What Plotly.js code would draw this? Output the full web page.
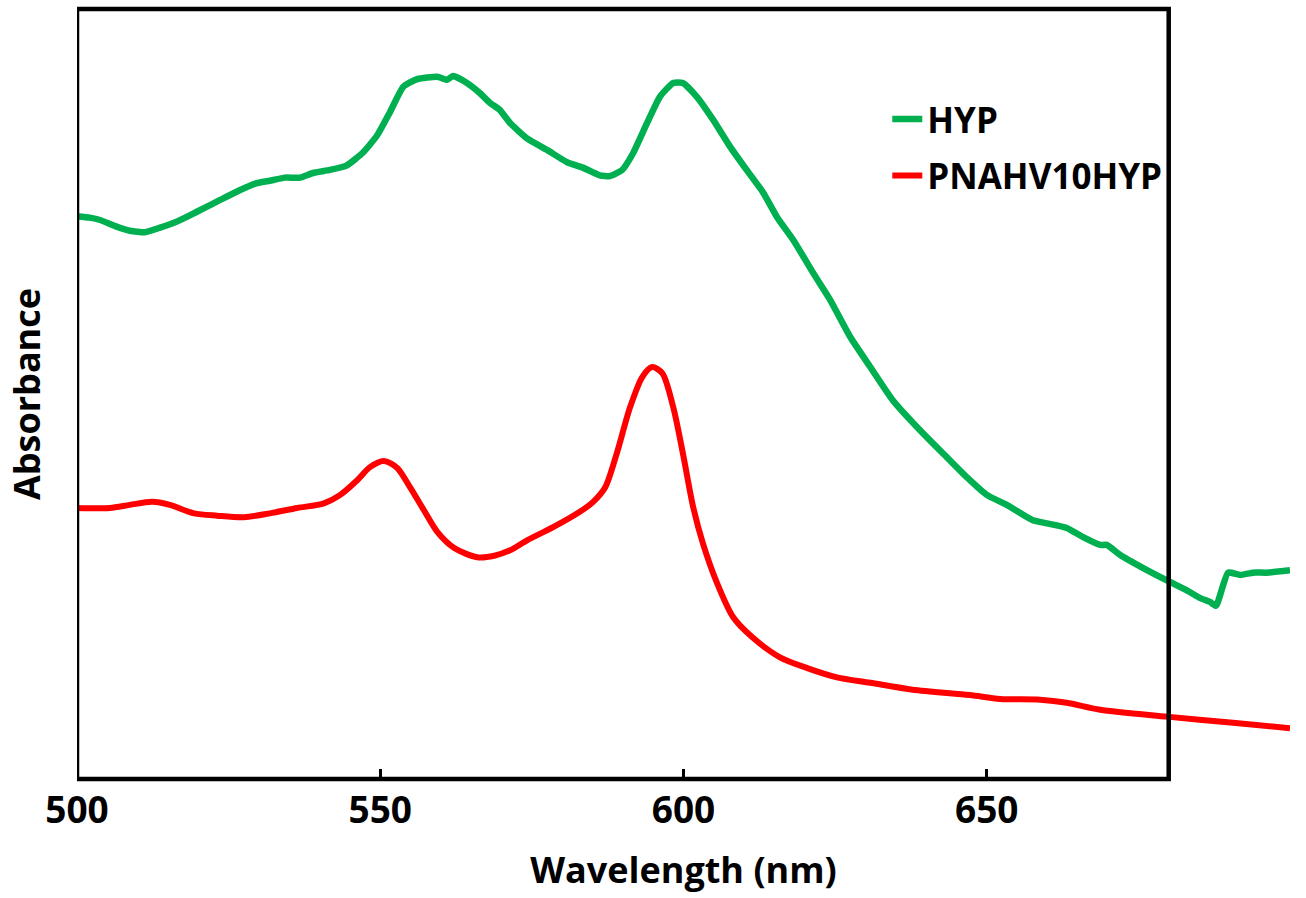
<!DOCTYPE html>
<html>
<head>
<meta charset="utf-8">
<script src="https://cdn.plot.ly/plotly-3.0.1.min.js"></script>
<style>html,body{margin:0;padding:0;background:#fff;}#chart{width:1306px;height:898px;}</style>
</head>
<body>
<div id="chart"></div>
<script>
// HYP (green) spectrum
const hypWavelength = [500.0,502.1,503.8,506.3,508.7,511.2,513.7,516.2,518.6,521.1,523.6,526.9,529.3,531.8,534.3,536.8,538.9,541.7,544.5,547.2,549.5,551.6,553.8,556.1,559.4,561.0,562.0,564.3,566.4,568.1,569.7,571.4,574.2,577.5,580.8,583.4,586.2,587.9,589.9,591.7,594.0,596.1,598.3,599.9,602.2,604.9,607.7,610.5,613.1,615.4,618.1,621.4,624.2,627.5,630.8,634.5,639.0,643.4,646.7,650.0,653.3,657.6,659.9,663.2,665.9,668.7,669.8,672.0,675.8,679.7,683.0,685.2,686.8,687.8,689.8,691.8,693.9,696.2,700.0];
const hypAbsorbance = [0.731,0.729,0.726,0.718,0.712,0.710,0.716,0.723,0.732,0.742,0.752,0.765,0.773,0.777,0.781,0.781,0.787,0.791,0.797,0.814,0.836,0.866,0.899,0.909,0.912,0.908,0.913,0.904,0.891,0.878,0.869,0.852,0.832,0.817,0.801,0.794,0.784,0.783,0.791,0.813,0.852,0.886,0.904,0.904,0.886,0.856,0.821,0.790,0.762,0.730,0.700,0.657,0.622,0.574,0.535,0.492,0.453,0.418,0.392,0.369,0.356,0.336,0.332,0.326,0.314,0.304,0.304,0.291,0.274,0.258,0.245,0.235,0.230,0.225,0.268,0.265,0.268,0.268,0.271];

// PNAHV10HYP (red) spectrum
const pnaWavelength = [500.0,505.4,508.7,512.4,515.3,519.3,523.1,527.5,531.8,536.3,540.7,543.4,546.2,548.3,550.6,552.8,554.9,557.2,559.4,562.2,566.0,568.8,571.4,574.2,578.5,582.9,585.1,587.1,589.0,591.2,593.2,594.8,596.5,598.3,599.9,601.6,603.2,605.5,608.2,611.5,615.9,620.4,625.3,630.8,637.8,647.2,652.2,658.8,663.2,668.7,679.7,690.6,700.0];
const pnaAbsorbance = [0.352,0.352,0.356,0.360,0.356,0.345,0.342,0.340,0.345,0.352,0.358,0.369,0.388,0.405,0.413,0.404,0.379,0.349,0.321,0.300,0.288,0.290,0.297,0.310,0.327,0.347,0.360,0.379,0.423,0.483,0.522,0.535,0.527,0.483,0.423,0.353,0.306,0.255,0.210,0.183,0.158,0.144,0.132,0.125,0.116,0.109,0.104,0.103,0.099,0.090,0.081,0.073,0.066];

const xTickVals = [500, 550, 600, 650];
const xTickText = ['500', '550', '600', '650'];
const frameEnd = 680;

const FONT = 'Open Sans, Noto Sans, sans-serif';

const traces = [
  {x: hypWavelength, y: hypAbsorbance, name: 'HYP', mode: 'lines', legendgroup: 'a',
   line: {color: '#00B050', width: 6.5, shape: 'spline', smoothing: 0.5}},
  {x: pnaWavelength, y: pnaAbsorbance, name: 'PNAHV10HYP', mode: 'lines', legendgroup: 'b',
   line: {color: '#FF0000', width: 6, shape: 'spline', smoothing: 0.8}}
];

const layout = {
  width: 1306, height: 898,
  margin: {l: 77, r: 16, t: 9, b: 119},
  paper_bgcolor: '#fff', plot_bgcolor: '#fff',
  showlegend: true,
  legend: {x: 0.668, y: 0.895, xanchor: 'left', yanchor: 'top',
           font: {family: FONT, size: 35, color: '#000', weight: 'bold'},
           bgcolor: 'rgba(0,0,0,0)', traceorder: 'grouped', tracegroupgap: 8},
  xaxis: {range: [500, 700], showgrid: false, zeroline: false, showline: false,
          tickmode: 'array', tickvals: xTickVals, ticktext: xTickText,
          ticks: 'inside', ticklen: 10, tickwidth: 3, tickcolor: '#000',
          ticklabelstandoff: 6,
          tickfont: {family: FONT, size: 37, color: '#000', weight: 'bold'},
          title: {text: 'Wavelength (nm)', standoff: 24,
                  font: {family: FONT, size: 36, color: '#000', weight: 'bold'}}},
  yaxis: {range: [0, 1], showgrid: false, zeroline: false, showline: false,
          showticklabels: false, ticks: '',
          title: {text: 'Absorbance', standoff: 24,
                  font: {family: FONT, size: 36, color: '#000', weight: 'bold'}}},
  shapes: [
    {type: 'rect', xref: 'x', yref: 'paper', x0: 500, x1: frameEnd, y0: 0, y1: 1,
     line: {color: '#000', width: 4.5}, layer: 'above'}
  ]
};

Plotly.newPlot('chart', traces, layout, {displayModeBar: false, staticPlot: true});
</script>
</body>
</html>
